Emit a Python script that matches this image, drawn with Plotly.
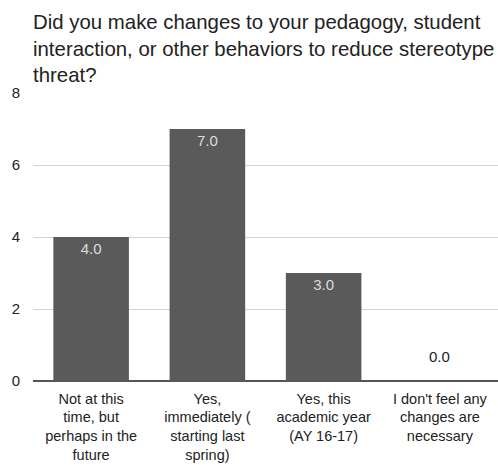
import plotly.graph_objects as go

title_text = "Did you make changes to your pedagogy, student<br>interaction, or other behaviors to reduce stereotype<br>threat?"
categories = ["Not at this<br>time, but<br>perhaps in the<br>future",
              "Yes,<br>immediately (<br>starting last<br>spring)",
              "Yes, this<br>academic year<br>(AY 16-17)",
              "I don't feel any<br>changes are<br>necessary"]
values = [4, 7, 3, 0]
y_ticks = [0, 2, 4, 6, 8]

FONT = "Liberation Sans, Arial, sans-serif"
BAR = "#5a5a5a"

inside_text = [f"{v:.1f}" if v > 0 else "" for v in values]

fig = go.Figure()
fig.add_trace(go.Bar(
    x=categories, y=values,
    marker=dict(color=BAR, line=dict(width=0)),
    text=inside_text, textposition="inside", insidetextanchor="end",
    textangle=0,
    insidetextfont=dict(family=FONT, size=15, color="#dcdcdc"),
    hoverinfo="skip",
))
for c, v in zip(categories, values):
    if v <= 0:
        fig.add_annotation(x=c, y=v, text=f"{v:.1f}", showarrow=False,
                           yanchor="bottom", yshift=14,
                           font=dict(family=FONT, size=15, color="#222222"))

fig.update_layout(
    width=498, height=465,
    margin=dict(l=33, r=0, t=93, b=84),
    paper_bgcolor="white", plot_bgcolor="white",
    bargap=0.35,
    showlegend=False,
    font=dict(family=FONT, size=15, color="#222222"),
    title=dict(text=title_text, x=0, xref="paper", xanchor="left",
               y=1, yref="container", yanchor="top", pad=dict(t=29),
               font=dict(family=FONT, size=20.4, color="#222222")),
)
fig.update_yaxes(range=[0, 8], tickvals=y_ticks, showgrid=True,
                 gridcolor="#d4d4d4", gridwidth=1,
                 zeroline=True, zerolinecolor="#555555", zerolinewidth=1.5,
                 ticks="", ticklabelstandoff=12,
                 tickfont=dict(family=FONT, size=15, color="#222222"),
                 fixedrange=True)
fig.update_xaxes(showgrid=False, ticks="", showline=False,
                 ticklabelstandoff=7,
                 tickfont=dict(family=FONT, size=14.5, color="#222222"),
                 fixedrange=True)

fig.write_html("out.html", config={"displayModeBar": False},
               post_script="document.body.style.margin='0';document.body.style.overflow='hidden';")
